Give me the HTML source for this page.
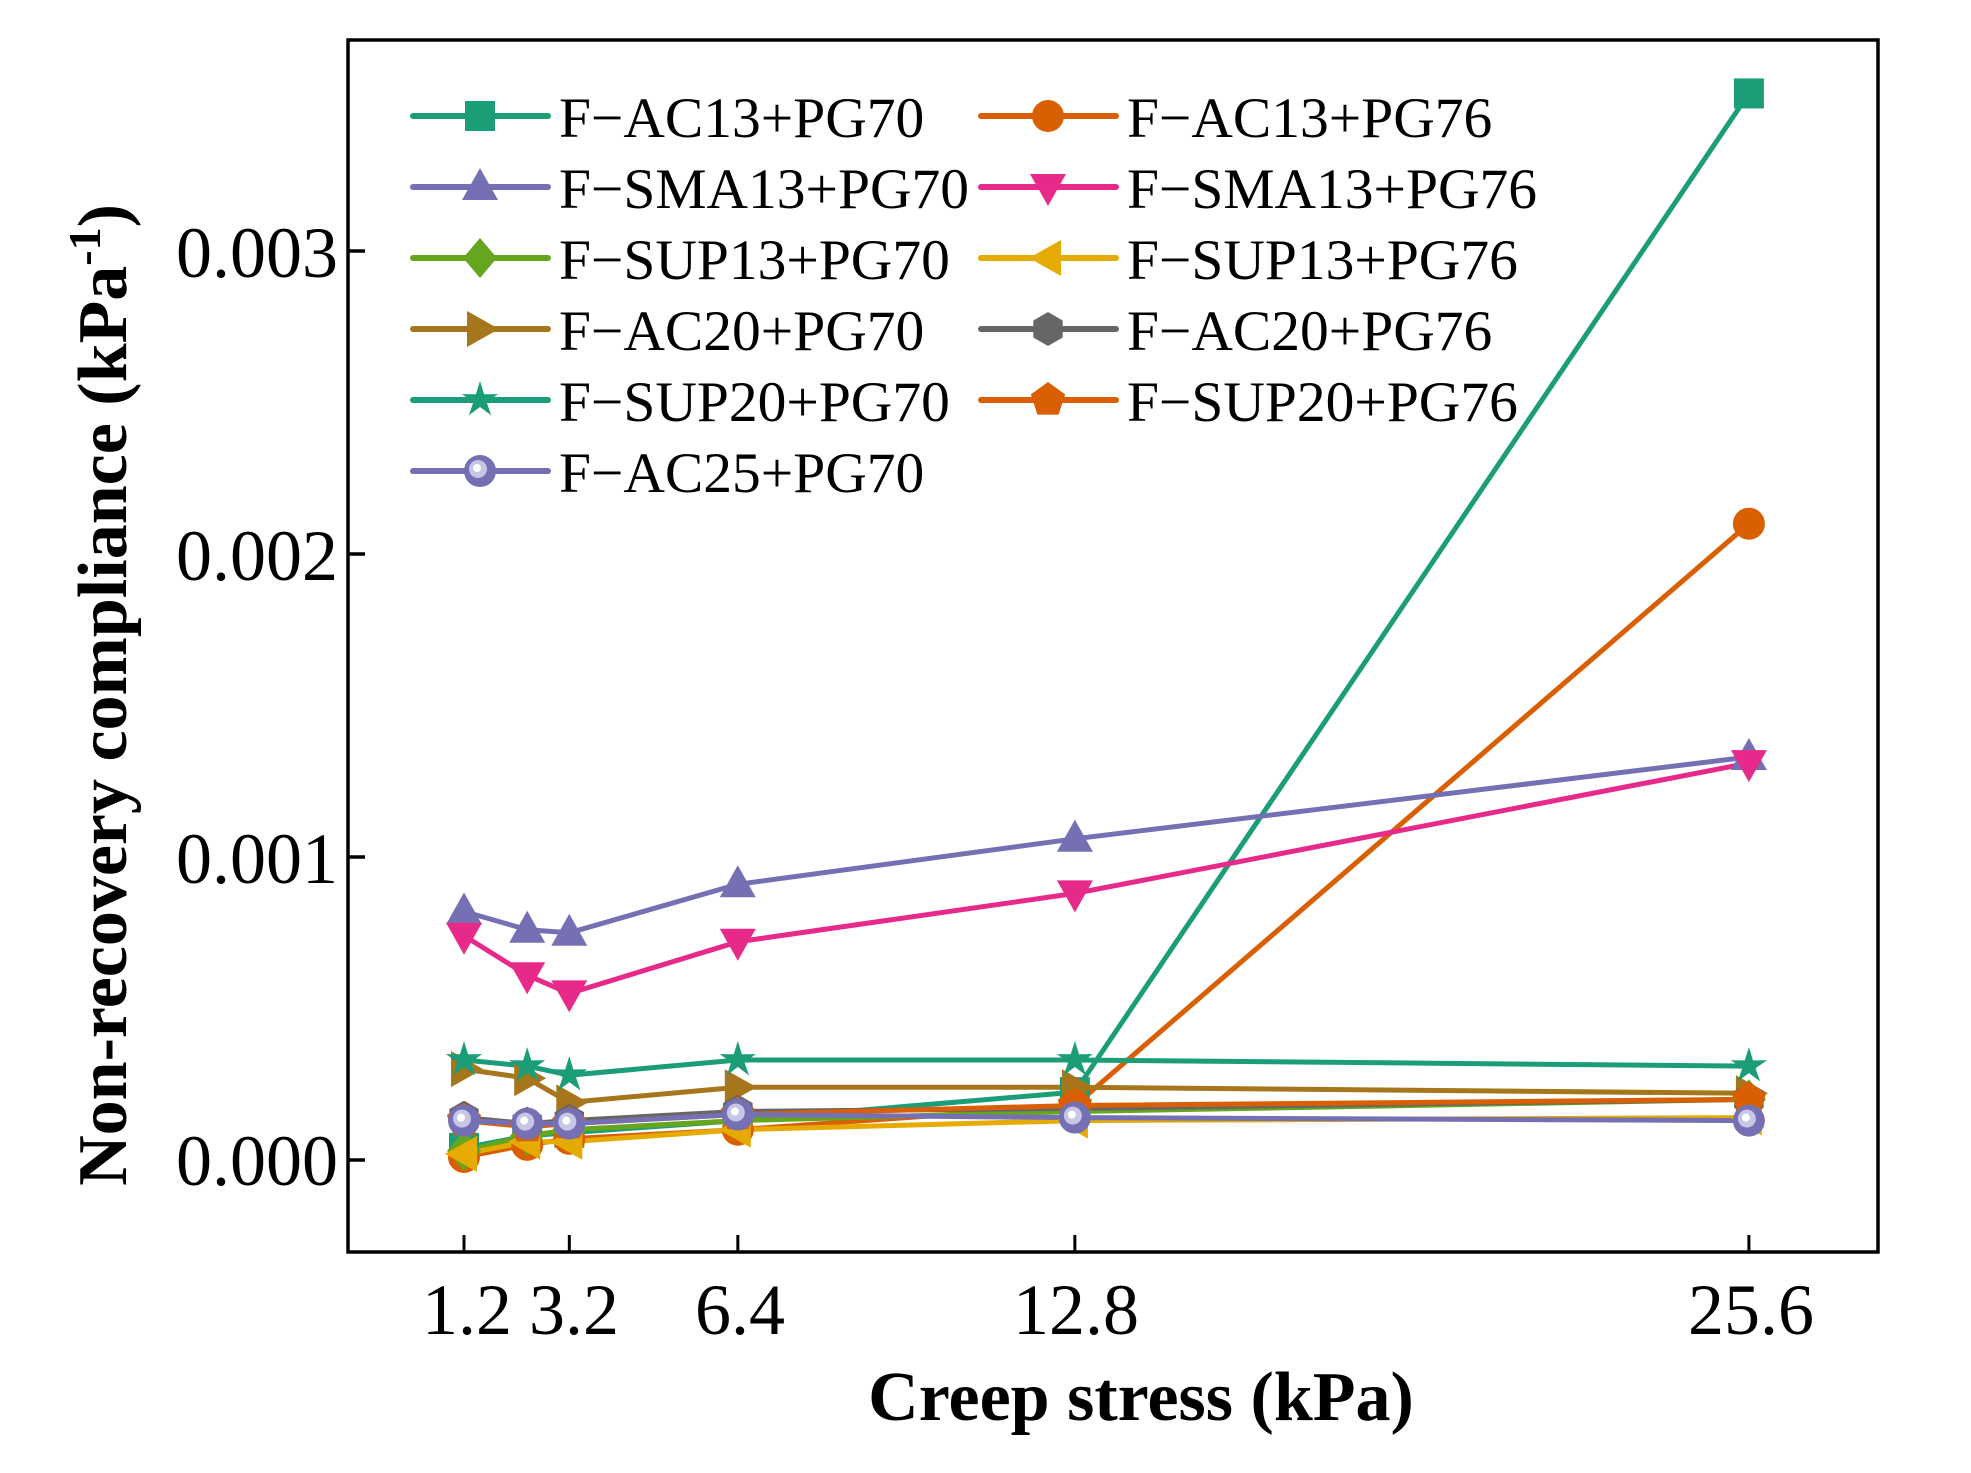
<!DOCTYPE html>
<html><head><meta charset="utf-8"><style>
html,body{margin:0;padding:0;background:#fff;}
svg text{font-family:"Liberation Serif",serif;}
</style></head><body>
<svg id="s" width="1971" height="1468" xmlns="http://www.w3.org/2000/svg">
<rect x="0" y="0" width="1971" height="1468" fill="#fff"/>
<g id="plot"></g>
<rect x="348" y="40" width="1530" height="1212" fill="none" stroke="#000" stroke-width="3.5"/>
<g font-size="72" fill="#000" text-anchor="end">
<text x="338" y="277">0.003</text>
<text x="338" y="580">0.002</text>
<text x="338" y="883">0.001</text>
<text x="338" y="1185">0.000</text>
</g>
<g font-size="72" fill="#000" text-anchor="middle">
<text x="467" y="1334">1.2</text>
<text x="574" y="1334">3.2</text>
<text x="740" y="1334">6.4</text>
<text x="1076" y="1334">12.8</text>
<text x="1751" y="1334">25.6</text>
</g>
<text x="1141" y="1420" font-size="70" font-weight="bold" text-anchor="middle">Creep stress (kPa)</text>
<text transform="translate(126,695) rotate(-90)" font-size="70" font-weight="bold" text-anchor="middle">Non-recovery compliance (kPa<tspan font-size="46" dy="-26">-1</tspan><tspan dy="26">)</tspan></text>
</svg>
<script>
var X=[1.2,2.4,3.2,6.4,12.8,25.6];
function px(k){return 464+(k-1.2)*52.66;}
function py(v){return 1160-v*303000;}
var S=[
["F\u2212AC13+PG70","#1b9e77","sq",[0.00004,0.00008,0.00009,0.00013,0.000224,0.00352]],
["F\u2212AC13+PG76","#d95f02","ci",[0.00001,0.00005,0.00007,0.0001,0.00018,0.0021]],
["F\u2212SMA13+PG70","#7570b3","tu",[0.00082,0.00076,0.00075,0.00091,0.00106,0.00133]],
["F\u2212SMA13+PG76","#e7298a","td",[0.00074,0.00061,0.00055,0.00072,0.00088,0.00131]],
["F\u2212SUP13+PG70","#66a61e","di",[0.00003,0.00008,0.0001,0.00013,0.00016,0.0002]],
["F\u2212SUP13+PG76","#e6ab02","tl",[0.00002,0.00006,0.00006,0.0001,0.00013,0.00014]],
["F\u2212AC20+PG70","#a6761d","tr",[0.0003,0.00027,0.00019,0.00024,0.00024,0.00022]],
["F\u2212AC20+PG76","#666666","hx",[0.00014,0.00012,0.00013,0.00016,0.00017,0.0002]],
["F\u2212SUP20+PG70","#1b9e77","st",[0.00033,0.00031,0.00028,0.00033,0.00033,0.00031]],
["F\u2212SUP20+PG76","#d95f02","pe",[0.00013,0.00011,0.00012,0.00015,0.00018,0.0002]],
["F\u2212AC25+PG70","#7570b3","ba",[0.00013,0.00012,0.00012,0.00015,0.00014,0.00013]]
];
function poly(pts){return pts.map(function(p){return p[0].toFixed(1)+","+p[1].toFixed(1)}).join(" ");}
function marker(t,x,y,c){
 var s="";
 if(t=="sq")s='<rect x="'+(x-15)+'" y="'+(y-15)+'" width="30" height="30" fill="'+c+'"/>';
 else if(t=="ci")s='<circle cx="'+x+'" cy="'+y+'" r="16" fill="'+c+'"/>';
 else if(t=="tu")s='<polygon points="'+poly([[x,y-19],[x-18,y+13],[x+18,y+13]])+'" fill="'+c+'"/>';
 else if(t=="td")s='<polygon points="'+poly([[x,y+19],[x-18,y-13],[x+18,y-13]])+'" fill="'+c+'"/>';
 else if(t=="tl")s='<polygon points="'+poly([[x-19,y],[x+13,y-18],[x+13,y+18]])+'" fill="'+c+'"/>';
 else if(t=="tr")s='<polygon points="'+poly([[x+19,y],[x-13,y-18],[x-13,y+18]])+'" fill="'+c+'"/>';
 else if(t=="di")s='<polygon points="'+poly([[x,y-20],[x+17,y],[x,y+20],[x-17,y]])+'" fill="'+c+'"/>';
 else if(t=="hx"){var p=[];for(var i=0;i<6;i++){var a=Math.PI/2+i*Math.PI/3;p.push([x+17*Math.cos(a),y-17*Math.sin(a)]);}s='<polygon points="'+poly(p)+'" fill="'+c+'"/>';}
 else if(t=="pe"){var p=[];for(var i=0;i<5;i++){var a=Math.PI/2+i*2*Math.PI/5;p.push([x+18*Math.cos(a),y-18*Math.sin(a)]);}s='<polygon points="'+poly(p)+'" fill="'+c+'"/>';}
 else if(t=="st"){var p=[];for(var i=0;i<10;i++){var a=Math.PI/2+i*Math.PI/5,rr=i%2?7:19;p.push([x+rr*Math.cos(a),y-rr*Math.sin(a)]);}s='<polygon points="'+poly(p)+'" fill="'+c+'"/>';}
 else if(t=="ba")s='<circle cx="'+x+'" cy="'+y+'" r="16" fill="'+c+'"/><circle cx="'+(x-2)+'" cy="'+(y-2)+'" r="9" fill="#c8c6e6"/><circle cx="'+(x-3)+'" cy="'+(y-3)+'" r="4" fill="#fff"/>';
 return s;
}
var h="";
[1.2,3.2,6.4,12.8,25.6].forEach(function(k){var x=px(k);h+='<line x1="'+x+'" y1="1252" x2="'+x+'" y2="1235" stroke="#000" stroke-width="3"/>';});
[0,0.001,0.002,0.003].forEach(function(v){var y=py(v);h+='<line x1="348" y1="'+y+'" x2="365" y2="'+y+'" stroke="#000" stroke-width="3.5"/>';});
S.forEach(function(s){
 var pts=X.map(function(k,i){return [px(k),py(s[3][i])];});
 h+='<polyline points="'+poly(pts)+'" fill="none" stroke="'+s[1]+'" stroke-width="5" stroke-linejoin="round"/>';
});
S.forEach(function(s){
 X.forEach(function(k,i){h+=marker(s[2],px(k),py(s[3][i]),s[1]);});
});
var rows=[116,187,258,329,400,471];
S.forEach(function(s,i){
 var col=i%2,row=Math.floor(i/2);
 var x0=col?981:413, y=rows[row];
 h+='<line x1="'+x0+'" y1="'+y+'" x2="'+(x0+135)+'" y2="'+y+'" stroke="'+s[1]+'" stroke-width="6" stroke-linecap="round"/>';
 h+=marker(s[2],x0+67,y,s[1]);
 h+='<text x="'+(x0+146)+'" y="'+(y+21)+'" font-size="57.5" fill="#000">'+s[0]+'</text>';
});
document.getElementById("plot").innerHTML=h;
</script>
</body></html>
